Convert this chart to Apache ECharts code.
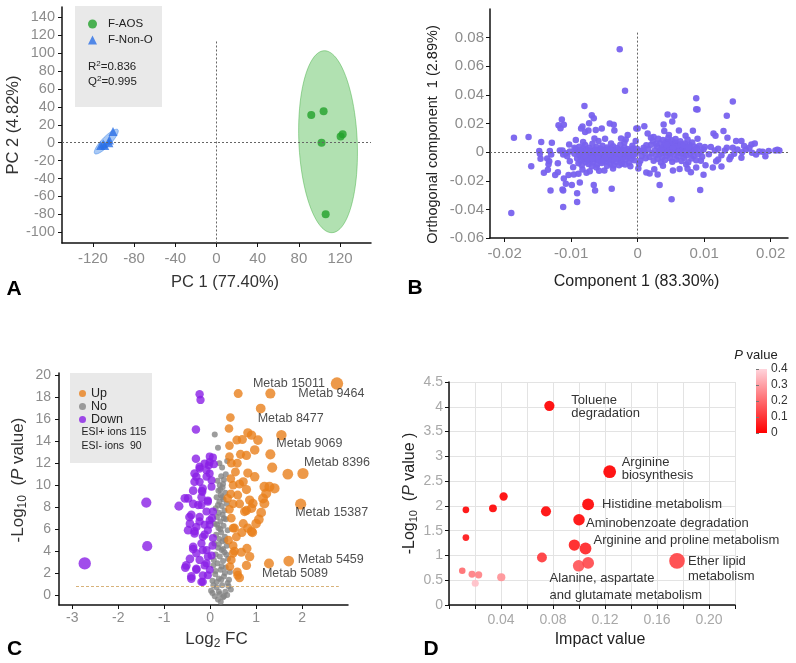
<!DOCTYPE html>
<html>
<head>
<meta charset="utf-8">
<script src="https://cdn.jsdelivr.net/npm/echarts@6.0.0/dist/echarts.min.js"></script>
<style>html,body{margin:0;padding:0;background:#fff}#chart{width:796px;height:663px}</style>
</head>
<body>
<div id="chart"></div>
<script>
// ================= DATA =================
// ---- Panel A: PCA scores ----
const aXTicks = [-120, -80, -40, 0, 40, 80, 120];
const aYTicks = [-100, -80, -60, -40, -20, 0, 20, 40, 60, 80, 100, 120, 140];
const aosScores = [[92, 31], [104, 35], [120.5, 7], [122.5, 9.5], [102, 0], [106, -80]];
const nonOScores = [[-100.5, 12.6], [-112.5, -3], [-108.5, -3], [-104, 3], [-104.5, 0], [-110, -1.5]];
// confidence ellipses: centre x, centre y, half-axis 1 (dx, dy), half-axis 2 (dx, dy)
const aosEllipse = [108.3, 1.1, -3.9, 101.6, 28.3, 1.4];
const nonOEllipse = [-107, 1.2, 11.2, 13.4, 3.2, -3.5];
const aR2 = '0.836', aQ2 = '0.995';

// ---- Panel B: OPLS-DA loadings ----
const bXTicks = [-0.02, -0.01, 0, 0.01, 0.02];
const bYTicks = [-0.06, -0.04, -0.02, 0, 0.02, 0.04, 0.06, 0.08];
const loadings = [
[-0.0095,-0.0012],[-0.0093,0.0021],[-0.0091,-0.0045],[-0.0090,0.0005],[-0.0089,-0.0078],[-0.0088,0.0038],[-0.0087,-0.0025],[-0.0086,-0.0061],[-0.0085,0.0012],[-0.0084,-0.0091],
[-0.0083,-0.0034],[-0.0082,0.0027],[-0.0081,-0.0052],[-0.0080,-0.0008],[-0.0079,0.0049],[-0.0078,-0.0069],[-0.0077,-0.0018],[-0.0076,0.0016],[-0.0075,-0.0041],[-0.0074,-0.0083],
[-0.0073,0.0031],[-0.0072,-0.0027],[-0.0071,-0.0056],[-0.0070,0.0003],[-0.0069,-0.0012],[-0.0068,0.0058],[-0.0067,-0.0072],[-0.0066,-0.0035],[-0.0065,0.0019],[-0.0064,-0.0049],
[-0.0063,-0.0004],[-0.0062,0.0036],[-0.0061,-0.0088],[-0.0060,-0.0022],[-0.0059,0.0009],[-0.0058,-0.0061],[-0.0057,-0.0038],[-0.0056,0.0025],[-0.0055,-0.0015],[-0.0054,-0.0076],
[-0.0053,0.0044],[-0.0052,-0.0029],[-0.0051,-0.0002],[-0.0050,-0.0053],[-0.0049,0.0014],[-0.0048,-0.0019],[-0.0047,-0.0067],[-0.0046,0.0032],[-0.0045,-0.0043],[-0.0044,-0.0009],
[-0.0043,0.0006],[-0.0042,-0.0031],[-0.0041,-0.0081],[-0.0040,0.0021],[-0.0039,-0.0017],[-0.0038,-0.0058],[-0.0037,0.0041],[-0.0036,-0.0004],[-0.0035,-0.0036],[-0.0034,0.0011],
[-0.0033,-0.0024],[-0.0032,-0.0069],[-0.0031,0.0028],[-0.0030,-0.0011],[-0.0029,-0.0047],[-0.0028,0.0004],[-0.0027,-0.0029],[-0.0026,0.0052],[-0.0025,-0.0015],[-0.0024,-0.0062],
[-0.0023,0.0017],[-0.0022,-0.0038],[-0.0021,-0.0006],[-0.0020,0.0033],[-0.0019,-0.0021],[-0.0018,-0.0051],[-0.0017,0.0008],[-0.0016,-0.0013],[-0.0015,0.0022],[-0.0014,-0.0034],
[-0.0013,-0.0074],[-0.0012,0.0001],[-0.0011,-0.0025],[-0.0010,0.0014],[-0.0009,-0.0045],[-0.0008,-0.0009],[-0.0007,0.0026],[-0.0006,-0.0018],[-0.0005,-0.0056],[-0.0004,0.0005],
[-0.0088,-0.0003],[-0.0082,-0.0016],[-0.0076,-0.0047],[-0.0071,0.0012],[-0.0066,0.0008],[-0.0061,-0.0011],[-0.0057,-0.0003],[-0.0052,0.0005],[-0.0047,-0.0026],[-0.0043,-0.0047],
[-0.0038,0.0008],[-0.0034,-0.0044],[-0.0029,0.0015],[-0.0024,0.0001],[-0.0019,0.0011],[-0.0013,-0.0004],[-0.0079,-0.0024],[-0.0068,-0.0044],[-0.0059,-0.0045],[-0.0049,-0.0037],
[-0.0041,-0.0014],[-0.0032,-0.0006],[-0.0027,-0.0012],[-0.0086,0.0009],[-0.0063,0.0014],[-0.0045,0.0019],
[-0.0027,0.0719],[-0.0019,0.0428],[-0.0186,0.0100],[-0.0164,0.0105],[-0.0145,0.0070],[-0.0129,0.0065],[-0.0160,-0.0098],[-0.0190,-0.0426],
[-0.0080,0.0323],[-0.0069,0.0258],[-0.0066,0.0237],[-0.0114,0.0228],[-0.0119,0.0188],[-0.0111,0.0191],[-0.0116,0.0167],[-0.0083,0.0179],[-0.0085,0.0165],[-0.0073,0.0202],
[-0.0079,0.0140],[-0.0074,0.0151],[-0.0063,0.0154],[-0.0054,0.0165],[-0.0042,0.0200],[-0.0036,0.0191],[-0.0035,0.0151],[-0.0049,0.0093],[-0.0093,0.0084],[-0.0103,0.0053],
[-0.0082,0.0070],[-0.0059,0.0077],[-0.0015,0.0119],[-0.0018,0.0088],[-0.0020,0.0067],[-0.0002,0.0165],[-0.0003,0.0077],
[-0.0147,-0.0012],[-0.0146,-0.0047],[-0.0148,0.0007],[-0.0132,0.0007],[-0.0130,-0.0016],[-0.0136,-0.0044],[-0.0133,-0.0063],[-0.0134,-0.0084],[-0.0141,-0.0144],[-0.0135,-0.0123],
[-0.0124,-0.0160],[-0.0120,-0.0140],[-0.0120,-0.0077],[-0.0117,0.0012],[-0.0113,0.0012],[-0.0112,-0.0016],[-0.0106,-0.0028],[-0.0111,-0.0184],[-0.0108,-0.0221],[-0.0113,-0.0261],
[-0.0112,-0.0268],[-0.0131,-0.0268],[-0.0112,-0.0384],[-0.0099,-0.0230],[-0.0104,-0.0160],[-0.0091,-0.0288],[-0.0091,-0.0349],[-0.0087,-0.0212],[-0.0096,-0.0156],[-0.0089,-0.0151],
[-0.0066,-0.0230],[-0.0064,-0.0268],[-0.0039,-0.0256],[-0.0050,-0.0128],[-0.0037,-0.0114],[-0.0036,-0.0093],[-0.0077,-0.0144],[-0.0072,-0.0133],[-0.0069,-0.0098],[-0.0062,-0.0107],
[-0.0054,-0.0063],[-0.0046,-0.0095],[-0.0024,-0.0081],[-0.0019,-0.0086],[-0.0011,-0.0098],[-0.0102,-0.0063],[-0.0102,0.0005],[-0.0108,-0.0007],[-0.0097,-0.0105],[-0.0083,-0.0121],
[-0.0058,-0.0131],[-0.0028,-0.0091],[-0.0095,0.0030],[-0.0065,0.0095],[-0.0040,0.0060],[-0.0025,0.0095],[-0.0008,0.0045],
[0.0088,0.0377],[0.0088,0.0300],[0.0090,0.0298],[0.0143,0.0354],[0.0134,0.0254],[0.0129,0.0147],[0.0135,0.0100],[0.0114,0.0130],[0.0117,0.0114],[0.0110,0.0035],
[0.0045,0.0263],[0.0055,0.0254],[0.0052,0.0214],[0.0039,0.0193],[0.0040,0.0147],[0.0010,0.0181],[0.0000,0.0165],[0.0072,0.0114],[0.0090,0.0093],[0.0047,0.0119],
[0.0020,0.0100],[0.0024,0.0105],[0.0051,-0.0330],[0.0033,-0.0230],[0.0094,-0.0265],[0.0099,-0.0158],[0.0053,-0.0128],[0.0030,-0.0156],[0.0018,-0.0149],[0.0013,-0.0142],
[0.0001,-0.0114],[0.0002,-0.0081],[0.0088,-0.0107],[0.0075,-0.0116],[0.0073,-0.0086],[0.0102,-0.0091],[0.0113,-0.0107],[0.0118,-0.0063],[0.0121,-0.0051],[0.0126,-0.0100],
[0.0140,-0.0033],[0.0138,-0.0049],[0.0156,-0.0040],[0.0157,0.0000],[0.0148,0.0077],[0.0156,0.0077],[0.0171,0.0053],[0.0176,0.0060],[0.0143,0.0030],[0.0150,0.0019],
[0.0163,0.0019],[0.0168,0.0030],[0.0178,-0.0016],[0.0188,0.0002],[0.0192,-0.0028],[0.0183,0.0005],[0.0207,0.0012],[0.0210,0.0016],[0.0213,0.0012],[0.0116,0.0012],
[0.0121,0.0023],[0.0131,0.0012],[0.0134,0.0030],[0.0101,0.0035],[0.0107,-0.0014],[0.0126,-0.0021],[0.0145,-0.0012],[0.0160,0.0042],[0.0172,-0.0005],[0.0197,0.0007],
[0.0080,-0.0140],[0.0063,-0.0118],[0.0038,-0.0095],[0.0025,-0.0120],[0.0095,-0.0060],[0.0015,0.0130],[0.0062,0.0151],[0.0083,0.0150],
[0.0016,0.0021],[0.0018,-0.0034],[0.0020,0.0052],[0.0021,-0.0008],[0.0023,0.0078],[0.0024,-0.0061],[0.0026,0.0013],[0.0027,-0.0022],[0.0029,0.0041],[0.0030,-0.0047],
[0.0031,0.0094],[0.0032,0.0003],[0.0033,-0.0015],[0.0034,0.0062],[0.0035,-0.0073],[0.0036,0.0025],[0.0037,-0.0036],[0.0038,0.0085],[0.0039,-0.0004],[0.0040,0.0047],
[0.0041,-0.0055],[0.0042,0.0016],[0.0043,0.0072],[0.0044,-0.0026],[0.0045,0.0036],[0.0046,0.0098],[0.0047,-0.0011],[0.0048,0.0058],[0.0049,-0.0043],[0.0050,0.0021],
[0.0051,0.0083],[0.0052,-0.0067],[0.0053,0.0008],[0.0054,0.0044],[0.0055,-0.0019],[0.0056,0.0067],[0.0057,0.0029],[0.0058,-0.0052],[0.0059,0.0011],[0.0060,0.0053],
[0.0061,-0.0031],[0.0062,0.0037],[0.0063,-0.0006],[0.0064,0.0076],[0.0065,0.0018],[0.0066,-0.0062],[0.0067,0.0045],[0.0068,-0.0014],[0.0069,0.0027],[0.0070,-0.0039],
[0.0071,0.0061],[0.0072,0.0004],[0.0073,-0.0023],[0.0074,0.0033],[0.0075,0.0088],[0.0076,-0.0071],[0.0077,0.0014],[0.0078,0.0049],[0.0079,-0.0009],[0.0080,0.0023],
[0.0081,-0.0045],[0.0082,0.0068],[0.0083,0.0006],[0.0084,-0.0027],[0.0085,0.0039],[0.0086,0.0012],[0.0088,-0.0056],[0.0089,0.0028],[0.0091,-0.0015],[0.0093,0.0044],
[0.0095,0.0003],[0.0097,-0.0033],[0.0099,0.0018],[0.0042,0.0005],[0.0048,0.0030],[0.0052,0.0048],[0.0055,0.0010],[0.0058,0.0035],[0.0061,0.0002],[0.0047,0.0068],
[0.0053,0.0025],[0.0065,0.0055],[0.0038,0.0032],[0.0044,0.0052],[0.0050,-0.0005],[0.0069,0.0048],[0.0035,0.0012],[0.0057,0.0092],[0.0076,0.0036],[0.0028,0.0058],
[-0.0003,-0.0012],[0.0003,0.0008],[0.0006,-0.0027],[0.0009,0.0031],[0.0011,-0.0005],[0.0013,0.0048],[-0.0001,0.0024],[0.0004,-0.0061],[0.0008,0.0012],[0.0012,-0.0043]
];

// ---- Panel C: volcano plot (log2 FC, -log10 P) ----
const cXTicks = [-3, -2, -1, 0, 1, 2];
const cYTicks = [0, 2, 4, 6, 8, 10, 12, 14, 16, 18, 20];
const pThreshold = 0.85;
const ionCounts = ['ESI+ ions 115', 'ESI- ions  90'];
const downPoints = [
[-2.73,2.88],[-1.39,8.42],[-1.37,4.45],[-0.68,8.09],[-0.48,8.79],[-0.31,15.06],[-0.23,18.27],[-0.21,17.75],[-0.31,12.4],[-0.18,9.48],
[-0.54,2.5],[-0.41,1.5],[-0.16,1.2],[-0.23,11.5],[-0.34,11.06],[-0.08,10.76],[-0.03,11.8],[-0.01,12.6],[-0.17,9.4],[-0.19,8.9],
[-0.37,8.3],[-0.19,8.2],[-0.05,8.5],[-0.41,7.3],[-0.23,7.1],[-0.08,7.6],[-0.44,6.5],[-0.30,6.2],[-0.12,6.4],[-0.01,6.8],
[-0.48,5.9],[-0.34,5.6],[-0.16,5.3],[-0.05,5.9],[-0.19,4.7],[-0.37,4.2],[-0.30,3.8],[-0.08,4.1],[-0.44,3.3],[-0.23,3.2],
[-0.05,3.5],[-0.12,2.7],[-0.30,2.3],[-0.16,1.8],[-0.01,2.3],[-0.23,11.67],[-0.12,11.97],[-0.01,12.1],[0.06,12.5],[0.08,11.9],
[-0.08,11.36],[-0.30,10.76],[-0.34,10.3],[-0.23,10.3],[-0.01,11.06],[0.03,10.45],[-0.55,8.8],[-0.37,9.5],[-0.16,9.7],[0.03,9.85],
[-0.26,8.2],[-0.05,8.6],[0.06,7.6],[-0.45,7.1],[-0.23,6.7],[-0.01,6.4],[-0.34,5.8],[-0.12,5.5],[0.06,5.2],[-0.37,4.4],
[-0.16,4.1],[0.03,3.6],[-0.52,2.7],[-0.30,2.4],[-0.08,2.9],[-0.41,1.7],[-0.19,1.2],[-0.05,1.8],[0.04,7.0],[0.05,4.5]
];
const noPoints = [
[0.10,14.6],[0.17,13.4],[0.37,12.2],[0.34,11.0],[0.24,10.8],[0.30,10.5],[0.21,10.0],[0.27,9.8],[0.18,9.5],[0.33,9.3],
[0.23,9.1],[0.14,8.9],[0.29,8.7],[0.20,8.5],[0.36,8.3],[0.25,8.1],[0.12,7.9],[0.31,7.7],[0.19,7.5],[0.27,7.3],
[0.15,7.1],[0.34,6.9],[0.22,6.7],[0.10,6.5],[0.29,6.3],[0.18,6.1],[0.38,5.9],[0.24,5.7],[0.13,5.5],[0.32,5.3],
[0.20,5.1],[0.27,4.9],[0.09,4.7],[0.36,4.5],[0.17,4.3],[0.25,4.1],[0.31,3.9],[0.12,3.7],[0.21,3.5],[0.39,3.3],
[0.28,3.1],[0.16,2.9],[0.07,2.7],[0.34,2.5],[0.23,2.3],[0.43,2.1],[0.11,1.9],[0.30,1.7],[0.19,1.5],[0.05,1.3],
[0.38,1.1],[0.26,0.9],[0.14,0.7],[0.45,0.5],[0.02,0.4],[0.33,0.3],[0.21,0.1],[0.10,-0.1],[0.28,-0.2],[0.17,-0.4],
[0.23,-0.6],[0.37,0.0],[0.07,0.9],[0.41,1.4],[0.22,9.6],[0.26,8.9],[0.17,8.2],[0.30,7.0],[0.22,6.0],[0.15,6.4],
[0.33,5.0],[0.19,4.6],[0.28,4.2],[0.08,3.2],[0.25,2.6],[0.32,2.0],[0.14,1.2],[0.24,1.4],[0.05,0.2],[0.40,0.8],
[0.19,0.3],[0.30,-0.1],[0.12,2.2],[0.35,3.7],[0.26,11.6],[0.20,12.0],[0.28,10.1],[0.16,10.4]
];
const upPoints = [
[2.76,19.24,'Metab 15011'],[1.31,18.33,'Metab 9464'],[0.61,18.33],[1.10,16.97,'Metab 8477'],[0.44,16.15],[0.41,15.15],[0.82,14.76],[0.90,14.55],[1.04,14.1],[1.55,14.55,'Metab 9069'],
[0.42,13.6],[0.58,14.1],[0.70,14.15],[0.97,13.2],[0.79,12.7],[1.31,12.8],[0.42,12.6],[0.46,12.0],[0.59,12.0],[1.35,11.6],
[1.69,11.0],[2.02,11.06,'Metab 8396'],[0.82,11.1],[0.97,10.76],[0.72,10.3],[0.45,10.6],[0.50,10.0],[0.64,10.1],[0.79,9.6],[1.18,9.85],
[1.29,9.85],[1.40,9.7],[1.22,9.24],[0.86,8.64],[0.93,8.33],[1.15,8.79],[1.18,8.33],[1.97,8.27,'Metab 15387'],[0.50,8.3],[0.64,8.3],
[0.79,7.7],[0.90,7.9],[1.11,7.5],[1.06,6.88],[1.00,6.5],[0.72,6.5],[0.82,6.1],[0.90,5.8],[0.46,7.0],[0.50,6.1],
[0.57,5.3],[0.69,5.7],[0.92,5.7],[0.50,4.5],[0.53,4.0],[0.80,4.24],[0.86,3.5],[0.46,3.2],[0.50,3.8],[1.28,2.88,'Metab 5089'],
[1.71,3.1,'Metab 5459'],[0.59,2.1],[0.64,1.58],[0.43,2.6],[0.40,5.0],[0.42,7.8],[0.45,9.2],[0.55,11.2],[0.66,12.8],[0.38,8.8],
[0.60,9.1],[0.75,7.6],[0.53,6.1],[0.68,3.9],[0.79,2.7],[0.60,1.8]
];

// ---- Panel D: pathway impact ----
const pathwayNames = ['Toluene degradation', 'Arginine biosynthesis', 'Histidine metabolism', 'Aminobenzoate degradation',
  'Arginine and proline metabolism', '', 'Ether lipid metabolism', 'Alanine, aspartate and glutamate metabolism',
  '', '', '', '', '', '', '', '', '', '', '', ''];
const impactValues = [0.0772, 0.1236, 0.107, 0.100, 0.105, 0.0964, 0.1754, 0.0997, 0.107, 0.0715,
  0.0746, 0.042, 0.0338, 0.013, 0.013, 0.0102, 0.0177, 0.0228, 0.0202, 0.0402];
const negLogP = [4.02, 2.69, 2.03, 1.72, 1.14, 1.21, 0.89, 0.79, 0.85, 0.96,
  1.89, 2.19, 1.95, 1.92, 1.36, 0.69, 0.62, 0.61, 0.44, 0.56];
const pColorTicks = [0, 0.1, 0.2, 0.3, 0.4];

// ================= STYLE / LAYOUT =================
const FONT = '"Liberation Sans", Arial, Helvetica, sans-serif';
const TICK_GRAY = '#8c8c8c';
const axisLine = { show: true, onZero: false, lineStyle: { color: '#111', width: 1.5 } };
const tick = (vals) => ({ show: true, length: 4, customValues: vals, lineStyle: { color: '#111', width: 1 } });
const lbl = (vals, size, margin, color) => ({ customValues: vals, color: color || TICK_GRAY, fontSize: size, margin: margin, fontFamily: FONT });
const subRich = (size) => ({
  a: { fontSize: size, color: '#333', fontFamily: FONT, lineHeight: size + 4 },
  sub: { fontSize: Math.round(size * 0.68), color: '#333', fontFamily: FONT, verticalAlign: 'bottom', lineHeight: size + 4 },
  it: { fontSize: size, color: '#333', fontFamily: FONT, fontStyle: 'italic', lineHeight: size + 4 }
});

const cLabelOffsets = {
  'Metab 15011': [-48, 0], 'Metab 9464': [61, 0], 'Metab 8477': [30, 10], 'Metab 9069': [28, 8],
  'Metab 8396': [34, -11], 'Metab 15387': [31, 8], 'Metab 5459': [42, -1], 'Metab 5089': [26, 10]
};
const dLabelLayout = {
  'Toluene degradation': { text: 'Toluene\ndegradation', offset: [22, 1], lh: 12.5 },
  'Arginine biosynthesis': { text: 'Arginine\nbiosynthesis', offset: [12, -3], lh: 12.5 },
  'Histidine metabolism': { text: 'Histidine metabolism', offset: [14, 0], lh: 14 },
  'Aminobenzoate degradation': { text: 'Aminobenzoate degradation', offset: [7, 4], lh: 14 },
  'Arginine and proline metabolism': { text: 'Arginine and proline metabolism', offset: [8, -8], lh: 14 },
  'Ether lipid metabolism': { text: 'Ether lipid\nmetabolism', offset: [11, 8], lh: 15 },
  'Alanine, aspartate and glutamate metabolism': { text: 'Alanine, aspartate\nand glutamate metabolism', offset: [-29, 21], lh: 16.5 }
};

function ellipseRenderer(fill, stroke) {
  return function (params, api) {
    const cx = api.value(0), cy = api.value(1), ux = api.value(2), uy = api.value(3), vx = api.value(4), vy = api.value(5);
    const pts = [];
    for (let i = 0; i < 90; i++) {
      const t = i / 90 * Math.PI * 2;
      pts.push(api.coord([cx + ux * Math.cos(t) + vx * Math.sin(t), cy + uy * Math.cos(t) + vy * Math.sin(t)]));
    }
    return { type: 'polygon', shape: { points: pts }, style: { fill: fill, stroke: stroke, lineWidth: 1 } };
  };
}

const upData = upPoints.map(p => {
  if (!p[2]) return [p[0], p[1]];
  return {
    name: p[2], value: [p[0], p[1]],
    label: { show: true, position: 'inside', align: 'center', verticalAlign: 'middle', offset: cLabelOffsets[p[2]],
      formatter: p[2], color: '#222', fontSize: 12.5, fontFamily: FONT }
  };
});

const pathwayData = impactValues.map((x, i) => {
  const name = pathwayNames[i];
  const item = { name: name, value: [x, negLogP[i], Math.pow(10, -negLogP[i])] };
  if (name && dLabelLayout[name]) {
    const L = dLabelLayout[name];
    item.label = { show: true, position: 'inside', align: 'left', verticalAlign: 'middle', offset: L.offset,
      formatter: L.text, color: '#222', fontSize: 13, lineHeight: L.lh, fontFamily: FONT };
  }
  return item;
});

const dotted = { type: [2, 2], color: '#666', width: 1 };

const option = {
  animation: false,
  backgroundColor: '#fff',
  textStyle: { fontFamily: FONT },
  grid: [
    { left: 62, top: 7, width: 309, height: 236, outerBoundsMode: 'none' },
    { left: 490, top: 9, width: 298, height: 229, outerBoundsMode: 'none' },
    { left: 59, top: 373, width: 289, height: 232, outerBoundsMode: 'none' },
    { left: 449, top: 382, width: 286, height: 223, outerBoundsMode: 'none' },
    { left: 756, top: 369, width: 11, height: 64, outerBoundsMode: 'none', show: true, borderWidth: 0,
      backgroundColor: { type: 'linear', x: 0, y: 0, x2: 0, y2: 1, colorStops: [{ offset: 0, color: '#ffd4dc' }, { offset: 1, color: '#ff0000' }] } }
  ],
  xAxis: [
    { gridIndex: 0, type: 'value', min: -150, max: 150, axisLine, axisTick: tick(aXTicks), axisLabel: lbl(aXTicks, 15, 8),
      splitLine: { show: false }, name: 'PC 1 (77.40%)', nameLocation: 'middle', nameGap: 31,
      nameTextStyle: { fontSize: 16.5, color: '#333', fontFamily: FONT, padding: [0, 0, 0, 17] } },
    { gridIndex: 1, type: 'value', min: -0.0222, max: 0.0226, axisLine, axisTick: tick(bXTicks), axisLabel: lbl(bXTicks, 15, 8),
      splitLine: { show: false }, name: 'Component 1 (83.30%)', nameLocation: 'middle', nameGap: 36,
      nameTextStyle: { fontSize: 16, color: '#222', fontFamily: FONT, padding: [0, 5, 0, 0] } },
    { gridIndex: 2, type: 'value', min: -3.29, max: 3.0, axisLine, axisTick: tick(cXTicks), axisLabel: lbl(cXTicks, 14, 6),
      splitLine: { show: false }, name: 'Log{sub|2} FC', nameLocation: 'middle', nameGap: 24,
      nameTextStyle: { fontSize: 17, color: '#333', fontFamily: FONT, padding: [0, 0, 0, 26], rich: subRich(17) } },
    { gridIndex: 3, type: 'value', min: 0, max: 0.22, interval: 0.02, axisLine,
      axisTick: { show: true, length: 4, lineStyle: { color: '#111' } },
      axisLabel: { color: '#a8a8a8', fontSize: 14, margin: 8, fontFamily: FONT,
        formatter: v => { const k = Math.round(v / 0.02); return (k > 0 && k % 2 === 0) ? (k * 0.02).toFixed(2) : ''; } },
      splitLine: { show: true, lineStyle: { color: '#e3e3e3', width: 1 } },
      name: 'Impact value', nameLocation: 'middle', nameGap: 27,
      nameTextStyle: { fontSize: 16, color: '#222', fontFamily: FONT, padding: [0, 0, 0, 16] } },
    { gridIndex: 4, type: 'value', show: false, min: 0, max: 1 }
  ],
  yAxis: [
    { gridIndex: 0, type: 'value', min: -112, max: 151.5, axisLine, axisTick: tick(aYTicks), axisLabel: lbl(aYTicks, 14.5, 7),
      splitLine: { show: false }, name: 'PC 2 (4.82%)', nameLocation: 'middle', nameGap: 37,
      nameTextStyle: { fontSize: 16.5, color: '#333', fontFamily: FONT } },
    { gridIndex: 1, type: 'value', min: -0.06, max: 0.1, axisLine, axisTick: tick(bYTicks), axisLabel: lbl(bYTicks, 15, 6),
      splitLine: { show: false }, name: 'Orthogonal component  1 (2.89%)', nameLocation: 'middle', nameGap: 50,
      nameTextStyle: { fontSize: 14.5, color: '#222', fontFamily: FONT, padding: [0, 22, 0, 0] } },
    { gridIndex: 2, type: 'value', min: -0.9, max: 20.2, axisLine, axisTick: tick(cYTicks), axisLabel: lbl(cYTicks, 14, 8),
      splitLine: { show: false }, name: '-Log{sub|10}  ({it|P} value)', nameLocation: 'middle', nameGap: 30,
      nameTextStyle: { fontSize: 17, color: '#333', fontFamily: FONT, padding: [0, 0, 0, 18], rich: subRich(17) } },
    { gridIndex: 3, type: 'value', min: 0, max: 4.5, interval: 0.5, axisLine,
      axisTick: { show: true, length: 4, lineStyle: { color: '#111' } },
      axisLabel: { color: '#a8a8a8', fontSize: 14, margin: 6, fontFamily: FONT },
      splitLine: { show: true, lineStyle: { color: '#e3e3e3', width: 1 } },
      name: '-Log{sub|10}  ({it|P} value )', nameLocation: 'middle', nameGap: 25,
      nameTextStyle: { fontSize: 16, color: '#222', fontFamily: FONT, rich: subRich(16) } },
    { gridIndex: 4, type: 'value', position: 'right', min: 0, max: 0.4, interval: 0.1,
      axisLine: { show: false }, axisTick: { show: true, length: 3, lineStyle: { color: '#777' } },
      axisLabel: { color: '#333', fontSize: 12, margin: 4, fontFamily: FONT, customValues: pColorTicks },
      splitLine: { show: false }, name: '{it|P} value', nameLocation: 'end', nameGap: 7,
      nameTextStyle: { fontSize: 13, color: '#222', fontFamily: FONT,
        rich: { it: { fontStyle: 'italic', fontSize: 13, color: '#222', fontFamily: FONT } } } }
  ],
  legend: [
    { data: [{ name: 'F-AOS', icon: 'circle' }, { name: 'F-Non-O', icon: 'triangle' }], orient: 'vertical',
      left: 88, top: 17.5, itemWidth: 9, itemHeight: 9, itemGap: 3, padding: 0, selectedMode: false,
      textStyle: { fontSize: 11.5, color: '#222', lineHeight: 13, fontFamily: FONT, padding: [0, 0, 0, 6] } },
    { data: [{ name: 'Up', icon: 'circle' }, { name: 'No', icon: 'circle' }, { name: 'Down', icon: 'circle' }], orient: 'vertical',
      left: 79, top: 387, itemWidth: 7, itemHeight: 7, itemGap: 0, padding: 0, selectedMode: false,
      textStyle: { fontSize: 12.5, color: '#222', lineHeight: 11, fontFamily: FONT } }
  ],
  visualMap: [
    { type: 'continuous', show: false, seriesIndex: 8, dimension: 2, min: 0, max: 0.4,
      inRange: { color: ['#ff0000', '#ffd4dc'] } }
  ],
  graphic: [
    { type: 'rect', shape: { x: 75, y: 6, width: 87, height: 101 }, style: { fill: '#e9e9e9' }, z: 0 },
    { type: 'rect', shape: { x: 70, y: 373, width: 82, height: 90 }, style: { fill: '#e9e9e9' }, z: 0 },
    { type: 'text', x: 88, y: 67, z: 5, style: { text: '{a|R}{s|2}{a|=' + aR2 + '}', verticalAlign: 'middle',
      rich: { a: { fontSize: 11.5, fill: '#222', fontFamily: FONT, lineHeight: 14 }, s: { fontSize: 8, fill: '#222', fontFamily: FONT, verticalAlign: 'top', lineHeight: 14 } } } },
    { type: 'text', x: 88, y: 81.5, z: 5, style: { text: '{a|Q}{s|2}{a|=' + aQ2 + '}', verticalAlign: 'middle',
      rich: { a: { fontSize: 11.5, fill: '#222', fontFamily: FONT, lineHeight: 14 }, s: { fontSize: 8, fill: '#222', fontFamily: FONT, verticalAlign: 'top', lineHeight: 14 } } } },
    { type: 'text', x: 81.5, y: 432.5, z: 5, style: { text: ionCounts[0], fontSize: 10.5, fontFamily: FONT, fill: '#222', verticalAlign: 'middle' } },
    { type: 'text', x: 81.5, y: 446, z: 5, style: { text: ionCounts[1], fontSize: 10.5, fontFamily: FONT, fill: '#222', verticalAlign: 'middle' } },
    { type: 'text', x: 14, y: 289, z: 5, style: { text: 'A', fontSize: 21, fontWeight: 'bold', fontFamily: FONT, fill: '#000', align: 'center', verticalAlign: 'middle' } },
    { type: 'text', x: 415, y: 288, z: 5, style: { text: 'B', fontSize: 21, fontWeight: 'bold', fontFamily: FONT, fill: '#000', align: 'center', verticalAlign: 'middle' } },
    { type: 'text', x: 14.5, y: 649, z: 5, style: { text: 'C', fontSize: 21, fontWeight: 'bold', fontFamily: FONT, fill: '#000', align: 'center', verticalAlign: 'middle' } },
    { type: 'text', x: 431, y: 649, z: 5, style: { text: 'D', fontSize: 21, fontWeight: 'bold', fontFamily: FONT, fill: '#000', align: 'center', verticalAlign: 'middle' } }
  ],
  series: [
    { type: 'custom', name: 'AOS ellipse', xAxisIndex: 0, yAxisIndex: 0, z: 1, silent: true,
      renderItem: ellipseRenderer('rgba(60,180,60,0.40)', 'rgba(60,170,60,0.45)'), data: [aosEllipse] },
    { type: 'custom', name: 'Non-O ellipse', xAxisIndex: 0, yAxisIndex: 0, z: 1, silent: true,
      renderItem: ellipseRenderer('rgba(40,120,230,0.40)', 'rgba(40,120,230,0.45)'), data: [nonOEllipse] },
    { type: 'scatter', name: 'F-AOS', xAxisIndex: 0, yAxisIndex: 0, symbol: 'circle', symbolSize: 8,
      itemStyle: { color: '#22a12a' }, data: aosScores, z: 3,
      markLine: { silent: true, symbol: 'none', label: { show: false }, lineStyle: dotted,
        data: [{ yAxis: 0 }, [{ coord: [0, 113] }, { coord: [0, -112] }]] } },
    { type: 'scatter', name: 'F-Non-O', xAxisIndex: 0, yAxisIndex: 0, symbol: 'triangle', symbolSize: 9,
      itemStyle: { color: '#2a6fe6' }, data: nonOScores, z: 3 },
    { type: 'scatter', name: 'Loadings', xAxisIndex: 1, yAxisIndex: 1, symbolSize: 6.5,
      itemStyle: { color: '#7862ee', opacity: 0.95 }, data: loadings,
      markLine: { silent: true, symbol: 'none', label: { show: false }, lineStyle: dotted,
        data: [{ yAxis: 0 }, [{ coord: [0, 0.0835] }, { coord: [0, -0.06] }]] } },
    { type: 'scatter', name: 'No', xAxisIndex: 2, yAxisIndex: 2, symbolSize: 6,
      itemStyle: { color: '#858585' }, data: noPoints,
      markLine: { silent: true, symbol: 'none', label: { show: false }, lineStyle: { type: [3, 2], color: '#d8b27a', width: 1 },
        data: [[{ coord: [-2.92, pThreshold] }, { coord: [2.8, pThreshold] }]] } },
    { type: 'scatter', name: 'Down', xAxisIndex: 2, yAxisIndex: 2, symbolSize: v => 8 + 1.6 * Math.abs(v[0]),
      itemStyle: { color: '#8a1fe6' }, data: downPoints },
    { type: 'scatter', name: 'Up', xAxisIndex: 2, yAxisIndex: 2, symbolSize: v => 8 + 1.6 * Math.abs(v[0]),
      itemStyle: { color: '#e8801c' }, data: upData },
    { type: 'scatter', name: 'Pathways', xAxisIndex: 3, yAxisIndex: 3, symbolSize: v => 6 + 55 * v[0],
      itemStyle: { opacity: 0.92 }, data: pathwayData }
  ]
};

const chart = echarts.init(document.getElementById('chart'));
chart.setOption(option);
</script>
</body>
</html>
